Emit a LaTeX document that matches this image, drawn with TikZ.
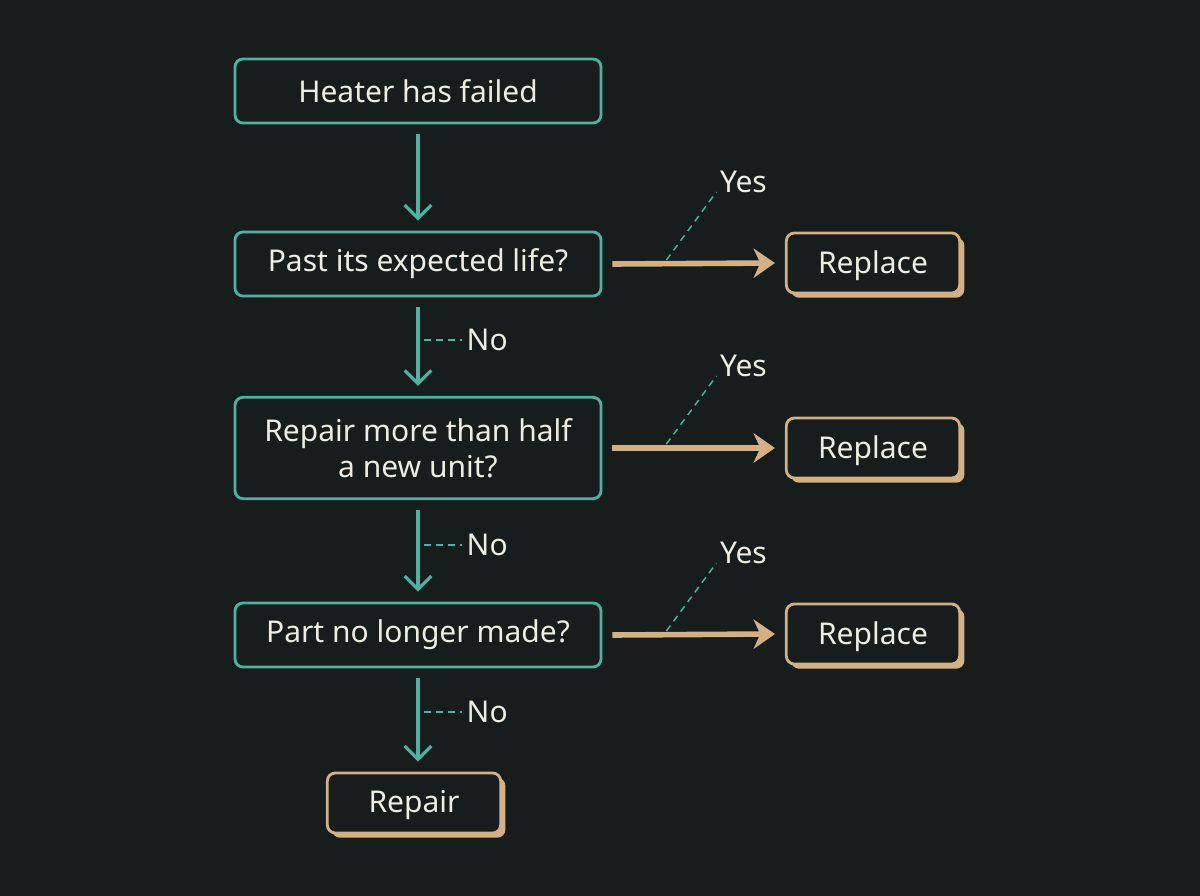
\documentclass[tikz,border=0pt]{standalone}
\usepackage{fontspec}
\setmainfont{Noto Sans}
\usetikzlibrary{shapes, fit, calc, arrows.meta, shadows}
\definecolor{bgc}{HTML}{171C1C}
\definecolor{teal}{HTML}{4DB3A0}
\definecolor{tan}{HTML}{D4B184}
\definecolor{ink}{HTML}{EDEDE3}
\begin{document}
\begin{tikzpicture}[x=0.75pt, y=-0.75pt]
						\tikzstyle{every node}=[text=ink, font=\fontsize{22.5}{27}\selectfont]
						\tikzstyle{question}=[
						draw=teal,
						line width=2.1pt,
						rounded corners=6pt,
						minimum width=274.5pt,
						align=center
						]
						\tikzstyle{outcome}=[
						draw=tan,
						fill=bgc,
						line width=2.1pt,
						rounded corners=6pt,
						minimum width=130pt,
						minimum height=45pt,
						text depth=2pt,
						drop shadow={shadow xshift=3.5pt, shadow yshift=-3.5pt, fill=tan, opacity=1}
						]
						\tikzstyle{down}=[teal, line width=2.4pt, -{Straight Barb[length=10pt, width=20pt, line width=2.4pt]}]
						\tikzstyle{yes}=[tan, line width=4.2pt, -{Stealth[length=16pt, width=22pt, inset=5pt]}]
						\tikzstyle{tag}=[teal, line width=1.1pt, dash pattern=on 5pt off 4pt]
						\fill[bgc] (0,0) rectangle (1200,896);
						\node[question, rectangle, minimum height=48pt] (START) at (418,91) {Heater has failed};
						\node[question, minimum height=48pt] (Q1) at (418,264) {Past its expected life?};
						\node[question, minimum height=76pt] (Q2) at (418,448) {Repair more than half\\a new unit?};
						\node[question, minimum height=48pt] (Q3) at (418,635) {Part no longer made?};
						\node[outcome] (R1) at (873,263) {Replace};
						\node[outcome] (R2) at (873,448) {Replace};
						\node[outcome] (R3) at (873,634) {Replace};
						\node[outcome] (FIX) at (414,803) {Repair};
						%
						\draw[down] ($(START.south)+(0,10)$) -- ($(Q1.north)+(0,-10)$);
						\foreach \a/\b/\y in {Q1/Q2/340, Q2/Q3/545, Q3/FIX/712} {
							\draw[down] ($(\a.south)+(0,10)$) -- ($(\a.south |- \b.north)+(0,-10)$);
							\coordinate (NO-\a) at (462,\y);
							\draw[tag] (424,\y) -- (NO-\a);
							\node[anchor=west] at (NO-\a) {No};
						}
						\foreach \a/\b in {Q1/R1, Q2/R2, Q3/R3} {
							\draw[yes] ($(\a.east)+(10,0)$) -- ($(\b.west)+(-10,0)$);
							\coordinate (YES-\a) at ($(\a.east)+(114,-72)$);
							\draw[tag] ($(\a.east)+(64,-4)$) -- (YES-\a);
							\node[anchor=west, inner sep=1pt] at ($(YES-\a)+(2,-10)$) {Yes};
						}
\end{tikzpicture}
\end{document}
